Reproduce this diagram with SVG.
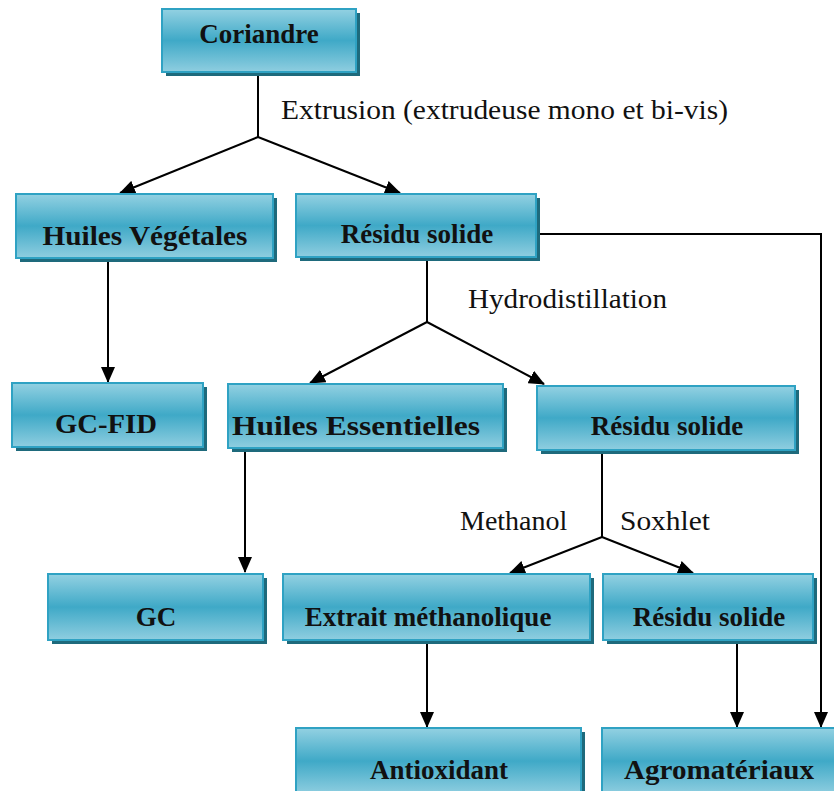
<svg xmlns="http://www.w3.org/2000/svg" width="834" height="791" viewBox="0 0 834 791">
<defs>
<linearGradient id="g" x1="0" y1="0" x2="0" y2="1">
<stop offset="0" stop-color="#93d1e2"/>
<stop offset="0.5" stop-color="#3fa9c7"/>
<stop offset="1" stop-color="#8fcee0"/>
</linearGradient>
<marker id="ah" markerUnits="userSpaceOnUse" markerWidth="16" markerHeight="14" viewBox="0 0 16 14" refX="15" refY="7" orient="auto">
<path d="M0,0 L16,7 L0,14 Z" fill="#000"/>
</marker>
<style>
.sh{fill:#1e6a7c}
.bx{fill:url(#g);stroke:#2fa2c3;stroke-width:2}
.t{font-family:"Liberation Serif","Times New Roman",serif;font-weight:bold;font-size:27px;fill:#111;text-anchor:middle}
.l{font-family:"Liberation Serif","Times New Roman",serif;font-size:28px;fill:#111}
.c{fill:none;stroke:#000;stroke-width:2}
.a{marker-end:url(#ah)}
</style>
</defs>
<rect width="834" height="791" fill="#fff"/>
<g id="connectors">
<path class="c" d="M258,76 V137"/>
<path class="c a" d="M258,137 L120,193"/>
<path class="c a" d="M258,137 L400,193"/>
<path class="c a" d="M108,262 V382"/>
<path class="c" d="M427,261 V322"/>
<path class="c a" d="M427,322 L310,383"/>
<path class="c a" d="M427,322 L544,384"/>
<path class="c a" d="M538,234 H821 V727"/>
<path class="c a" d="M245,452 V572"/>
<path class="c" d="M602,454 V537"/>
<path class="c a" d="M602,537 L510,573"/>
<path class="c a" d="M602,537 L693,573"/>
<path class="c a" d="M427,644 V727"/>
<path class="c a" d="M737,644 V727"/>
</g>
<g id="labels">
<text class="l" x="281" y="119" textLength="447" lengthAdjust="spacingAndGlyphs">Extrusion (extrudeuse mono et bi-vis)</text>
<text class="l" x="468" y="308" textLength="199" lengthAdjust="spacingAndGlyphs">Hydrodistillation</text>
<text class="l" x="460" y="530">Methanol</text>
<text class="l" x="620" y="530" textLength="90" lengthAdjust="spacingAndGlyphs">Soxhlet</text>
</g>
<g id="coriandre"><rect class="sh" x="166" y="13" width="194" height="63"/><rect class="bx" x="162" y="9" width="194" height="63"/><text class="t" x="259" y="43">Coriandre</text></g>
<g id="huiles-vegetales"><rect class="sh" x="20" y="198" width="257" height="64"/><rect class="bx" x="16" y="194" width="257" height="64"/><text class="t" x="145" y="245" textLength="205" lengthAdjust="spacingAndGlyphs">Huiles Végétales</text></g>
<g id="residu1"><rect class="sh" x="300" y="198" width="240" height="63"/><rect class="bx" x="296" y="194" width="240" height="63"/><text class="t" x="417" y="243">Résidu solide</text></g>
<g id="gc-fid"><rect class="sh" x="16" y="387" width="191" height="64"/><rect class="bx" x="12" y="383" width="191" height="64"/><text class="t" x="106" y="433" textLength="102" lengthAdjust="spacingAndGlyphs">GC-FID</text></g>
<g id="huiles-essentielles"><rect class="sh" x="232" y="388" width="275" height="64"/><rect class="bx" x="228" y="384" width="275" height="64"/><text class="t" x="356" y="435" textLength="248" lengthAdjust="spacingAndGlyphs">Huiles Essentielles</text></g>
<g id="residu2"><rect class="sh" x="541" y="390" width="258" height="64"/><rect class="bx" x="537" y="386" width="258" height="64"/><text class="t" x="667" y="435">Résidu solide</text></g>
<g id="gc"><rect class="sh" x="52" y="578" width="215" height="66"/><rect class="bx" x="48" y="574" width="215" height="66"/><text class="t" x="156" y="626">GC</text></g>
<g id="extrait"><rect class="sh" x="287" y="578" width="307" height="66"/><rect class="bx" x="283" y="574" width="307" height="66"/><text class="t" x="428" y="626">Extrait méthanolique</text></g>
<g id="residu3"><rect class="sh" x="607" y="578" width="210" height="66"/><rect class="bx" x="603" y="574" width="210" height="66"/><text class="t" x="709" y="626">Résidu solide</text></g>
<g id="antioxidant"><rect class="sh" x="300" y="732" width="285" height="66"/><rect class="bx" x="296" y="728" width="285" height="66"/><text class="t" x="439" y="779">Antioxidant</text></g>
<g id="agromateriaux"><rect class="sh" x="606" y="732" width="240" height="66"/><rect class="bx" x="602" y="728" width="240" height="66"/><text class="t" x="719" y="779" textLength="190" lengthAdjust="spacingAndGlyphs">Agromatériaux</text></g>
</svg>
